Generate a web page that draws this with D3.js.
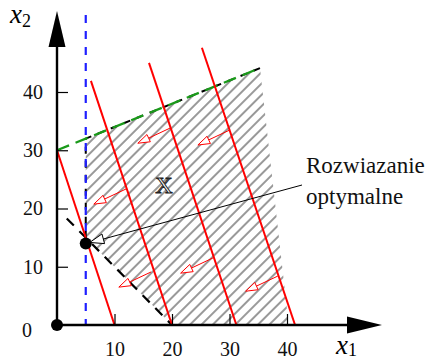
<!DOCTYPE html>
<html>
<head>
<meta charset="utf-8">
<script src="https://cdn.jsdelivr.net/npm/d3@7"></script>
<style>
  body { margin: 0; background: #fff; }
  svg { display: block; }
  text { font-family: 'Liberation Serif', 'DejaVu Serif', serif; }
</style>
</head>
<body>
<div id="chart"></div>
<script>
const width = 427;
const height = 360;

// data (in x1, x2 units)
const tickValues = [10, 20, 30, 40];
const regionX = [[5, 15], [5, 32], [35.3, 44.1], [40.3, 0], [20, 0]];
const constraintGreen = [[0, 30], [35.3, 44.1]];
const constraintDiag = [[1.7, 18.3], [20, 0]];
const constraintBlueX = 5;
const objectiveLines = [
  [[0, 30], [10, 0]],
  [[5.9, 41.9], [20, 0]],
  [[16.0, 45.0], [31.2, 0]],
  [[25.2, 47.6], [41.4, 0]]
];
const arrowBases = [[12.0, 23.35], [16.35, 9.1], [19.65, 33.8], [27.1, 11.5], [30.1, 33.5], [38.4, 8.4]];
const arrowDir = [-5.6, -2.6];
const optimum = [5, 14];
const origin = [0, 0];

const x = d3.scaleLinear().domain([0, 40]).range([57, 287]);
const y = d3.scaleLinear().domain([0, 40]).range([325, 92]);

const svg = d3.select('#chart')
  .append('svg')
  .attr('width', width)
  .attr('height', height);

const defs = svg.append('defs');

/* hatch pattern */
defs.append('pattern')
  .attr('id', 'hatch')
  .attr('patternUnits', 'userSpaceOnUse')
  .attr('width', 8)
  .attr('height', 8)
  .attr('patternTransform', 'rotate(-45)')
  .append('line')
  .attr('x1', 0).attr('y1', 4).attr('x2', 8).attr('y2', 4)
  .attr('stroke', '#333')
  .attr('stroke-width', 1);

const line = d3.line().x(d => x(d[0])).y(d => y(d[1]));

/* region X */
svg.append('path')
  .attr('d', line(regionX) + 'Z')
  .attr('fill', 'url(#hatch)');

// dashed black border of the region
svg.append('path')
  .attr('d', line([regionX[0], regionX[1], regionX[2]]))
  .attr('fill', 'none')
  .attr('stroke', '#000')
  .attr('stroke-width', 2)
  .attr('stroke-dasharray', '7,7');

svg.append('path')
  .attr('d', line(constraintDiag))
  .attr('fill', 'none')
  .attr('stroke', '#000')
  .attr('stroke-width', 2.2)
  .attr('stroke-dasharray', '10,8');

/* constraints */
svg.append('path')
  .attr('d', line(constraintGreen))
  .attr('fill', 'none')
  .attr('stroke', '#1a9a1a')
  .attr('stroke-width', 2.2)
  .attr('stroke-dasharray', '13,7');

svg.append('line')
  .attr('x1', x(constraintBlueX)).attr('x2', x(constraintBlueX))
  .attr('y1', 15).attr('y2', y(0))
  .attr('stroke', '#1f1fff')
  .attr('stroke-width', 2.2)
  .attr('stroke-dasharray', '8,8');

/* objective lines */
svg.selectAll('.obj')
  .data(objectiveLines)
  .enter()
  .append('path')
  .attr('class', 'obj')
  .attr('d', d => line(d))
  .attr('fill', 'none')
  .attr('stroke', '#ff0000')
  .attr('stroke-width', 2);

/* small red direction arrows */
const openHead = (x0, y0, x1, y1, len, half) => {
  const a = Math.atan2(y1 - y0, x1 - x0);
  const c = Math.cos(a), s = Math.sin(a);
  const bx = x1 - len * c, by = y1 - len * s;
  return 'M' + x1 + ',' + y1 +
    'L' + (bx - half * s) + ',' + (by + half * c) +
    'L' + (bx + half * s) + ',' + (by - half * c) + 'Z';
};

const arrows = svg.selectAll('.dir')
  .data(arrowBases)
  .enter()
  .append('g')
  .attr('class', 'dir');

arrows.append('line')
  .attr('x1', d => x(d[0]))
  .attr('y1', d => y(d[1]))
  .attr('x2', d => x(d[0] + arrowDir[0] * 0.7))
  .attr('y2', d => y(d[1] + arrowDir[1] * 0.7))
  .attr('stroke', '#ff0000')
  .attr('stroke-width', 1);

arrows.append('path')
  .attr('d', d => openHead(x(d[0]), y(d[1]), x(d[0] + arrowDir[0]), y(d[1] + arrowDir[1]), 12, 4))
  .attr('fill', '#fff')
  .attr('stroke', '#ff0000')
  .attr('stroke-width', 1);

/* axes */
const xAxis = svg.append('g')
  .attr('transform', 'translate(0,' + y(0) + ')')
  .call(d3.axisBottom(x).tickValues(tickValues).tickSize(-11).tickPadding(17));

const yAxis = svg.append('g')
  .attr('transform', 'translate(' + x(0) + ',0)')
  .call(d3.axisLeft(y).tickValues(tickValues).tickSize(-11).tickPadding(14));

[xAxis, yAxis].forEach(g => {
  g.attr('font-family', null).attr('font-size', 20);
  g.select('.domain').remove();
  g.selectAll('.tick line').attr('stroke', '#000').attr('stroke-width', 1.2);
  g.selectAll('.tick text').attr('fill', '#111');
});

svg.append('line')
  .attr('x1', x(0)).attr('y1', y(0)).attr('x2', 350).attr('y2', y(0))
  .attr('stroke', '#000').attr('stroke-width', 2.4);
svg.append('path')
  .attr('d', 'M347,' + (y(0) - 8.5) + 'L382,' + y(0) + 'L347,' + (y(0) + 8.5) + 'Z')
  .attr('fill', '#000');

svg.append('line')
  .attr('x1', x(0)).attr('y1', y(0)).attr('x2', x(0)).attr('y2', 44)
  .attr('stroke', '#000').attr('stroke-width', 2.4);
svg.append('path')
  .attr('d', 'M' + (x(0) - 8.5) + ',47L' + x(0) + ',11L' + (x(0) + 8.5) + ',47Z')
  .attr('fill', '#000');

svg.append('text')
  .attr('x', x(0) - 30).attr('y', y(0) + 12)
  .attr('text-anchor', 'middle')
  .attr('font-size', 20)
  .attr('fill', '#111')
  .text('0');

/* axis titles */
const t2 = svg.append('text').attr('x', 10).attr('y', 23).attr('font-size', 27);
t2.append('tspan').attr('font-style', 'italic').text('x');
t2.append('tspan').attr('dy', 4).attr('font-size', 18).text('2');

const t1 = svg.append('text').attr('x', 336).attr('y', 354).attr('font-size', 27);
t1.append('tspan').attr('font-style', 'italic').text('x');
t1.append('tspan').attr('dy', 2).attr('font-size', 18).text('1');

/* points */
svg.selectAll('.pt')
  .data([origin, optimum])
  .enter()
  .append('circle')
  .attr('cx', d => x(d[0]))
  .attr('cy', d => y(d[1]))
  .attr('r', 6)
  .attr('fill', '#000');

/* region label: outlined X */
svg.append('text')
  .attr('x', x(18.6)).attr('y', y(22.6))
  .attr('text-anchor', 'middle')
  .attr('font-size', 24)
  .attr('fill', '#fff')
  .attr('stroke', '#222')
  .attr('stroke-width', 1)
  .text('X');

/* annotation */
const ax0 = 302, ay0 = 185;
const ax1 = x(optimum[0]) + 4, ay1 = y(optimum[1]) - 1;
svg.append('line')
  .attr('x1', ax0).attr('y1', ay0)
  .attr('x2', ax1 + 12).attr('y2', ay1 - 3)
  .attr('stroke', '#000').attr('stroke-width', 1);
svg.append('path')
  .attr('d', openHead(ax0, ay0, ax1, ay1, 14, 5))
  .attr('fill', '#fff')
  .attr('stroke', '#000')
  .attr('stroke-width', 1);

svg.append('text')
  .attr('x', 306).attr('y', 173)
  .attr('font-size', 23)
  .attr('fill', '#111')
  .text('Rozwiazanie');
svg.append('text')
  .attr('x', 306).attr('y', 204)
  .attr('font-size', 23)
  .attr('fill', '#111')
  .text('optymalne');
</script>
</body>
</html>
